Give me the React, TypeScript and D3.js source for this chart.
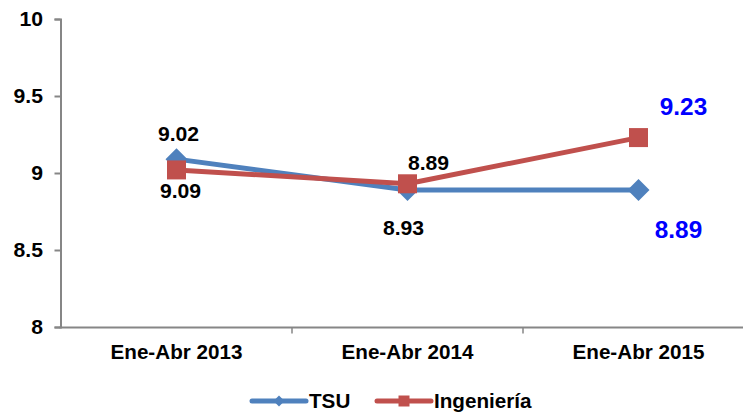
import { useEffect, useRef } from "react";
import * as d3 from "d3";

const categories = ["Ene-Abr 2013", "Ene-Abr 2014", "Ene-Abr 2015"];
const tsuValues = [9.09, 8.89, 8.89];
const ingValues = [9.02, 8.93, 9.23];
const tsuLabels = ["9.09", "8.93", "8.89"];
const ingLabels = ["9.02", "8.89", "9.23"];
const yTicks = [8, 8.5, 9, 9.5, 10];

const W = 743;
const H = 413;
const FONT = "Liberation Sans, Arial, sans-serif";
const BLUE = "#4F81BD";
const RED = "#C0504D";
const STRETCH = 1.06;

// label placement tweaks (relative to the point), the last one is highlighted
const tsuOffsets = [[4, 39], [-4, 45], [40, 48]];
const ingOffsets = [[2, -29], [21, -14], [45, -23]];

const diamond = (r: number) => `M0,${-r}L${r},0L0,${r}L${-r},0Z`;
const square = (r: number) => `M${-r},${-r}H${r}V${r}H${-r}Z`;

export default function App() {
  const svgRef = useRef<SVGSVGElement>(null);

  useEffect(() => {
    const svg = d3.select(svgRef.current);
    svg.selectAll("*").remove();

    const x = d3.scaleBand<string>().domain(categories).range([61, 754]);
    const y = d3.scaleLinear().domain([8, 10]).range([327, 19]);
    const cx = (c: string) => (x(c) as number) + x.bandwidth() / 2;

    const label = (g: any, tx: number, ty: number, t: string, size: number, anchor: string, fill = "#000") =>
      g.append("text")
        .attr("transform", `translate(${tx},${ty}) scale(${STRETCH},1)`)
        .attr("text-anchor", anchor)
        .attr("font-family", FONT).attr("font-weight", "bold")
        .attr("font-size", size).attr("fill", fill)
        .text(t);

    // y axis
    const gy = svg.append("g").attr("transform", "translate(60.5,0)")
      .call(d3.axisLeft(y).tickValues(yTicks).tickSize(6).tickFormat(() => ""));
    gy.select(".domain").attr("stroke", "#868686").attr("stroke-width", 2);
    gy.selectAll(".tick line").attr("stroke", "#868686").attr("stroke-width", 2);
    yTicks.forEach(t => label(svg, 43, y(t) + 7, String(t), 20, "end"));

    // x axis
    const gx = svg.append("g").attr("transform", "translate(0,327.5)");
    gx.append("line").attr("x1", 59.5).attr("x2", W).attr("stroke", "#868686").attr("stroke-width", 2);
    categories.slice(1).forEach(c => {
      gx.append("line").attr("x1", x(c) as number).attr("x2", x(c) as number)
        .attr("y1", 0).attr("y2", 6).attr("stroke", "#868686").attr("stroke-width", 1.5);
    });
    categories.forEach(c => label(gx, cx(c), 31.5, c, 19.5, "middle"));

    const line = d3.line<number>().x((_, i) => cx(categories[i])).y(d => y(d));

    const drawSeries = (vals: number[], color: string, shape: string) => {
      svg.append("path").attr("d", line(vals)).attr("fill", "none")
        .attr("stroke", color).attr("stroke-width", 5).attr("stroke-linejoin", "round");
      svg.selectAll(null).data(vals).join("path")
        .attr("transform", (d, i) => `translate(${cx(categories[i])},${y(d)})`)
        .attr("d", shape)
        .attr("fill", color);
    };
    drawSeries(tsuValues, BLUE, diamond(11));
    drawSeries(ingValues, RED, square(9.5));

    const drawLabels = (vals: number[], labels: string[], offs: number[][]) => {
      labels.forEach((t, i) => {
        const last = i === labels.length - 1;
        label(svg, cx(categories[i]) + offs[i][0], y(vals[i]) + offs[i][1], t,
          last ? 23 : 20, "middle", last ? "#0000FF" : "#000");
      });
    };
    drawLabels(tsuValues, tsuLabels, tsuOffsets);
    drawLabels(ingValues, ingLabels, ingOffsets);

    // legend
    const legend = [
      { name: "TSU", color: BLUE, shape: diamond(5.5), x: 252 },
      { name: "Ingeniería", color: RED, shape: square(5.5), x: 377 },
    ];
    const lg = svg.append("g").attr("transform", "translate(0,401)");
    legend.forEach(l => {
      lg.append("line").attr("x1", l.x).attr("x2", l.x + 54)
        .attr("stroke", l.color).attr("stroke-width", 5).attr("stroke-linecap", "round");
      lg.append("path").attr("transform", `translate(${l.x + 27},0)`).attr("d", l.shape).attr("fill", l.color);
      label(lg, l.x + 57, 7, l.name, 19.5, "start");
    });
  }, []);

  return (
    <svg ref={svgRef} width={W} height={H}
      style={{ position: "absolute", left: 0, top: 0, background: "#fff" }} />
  );
}
